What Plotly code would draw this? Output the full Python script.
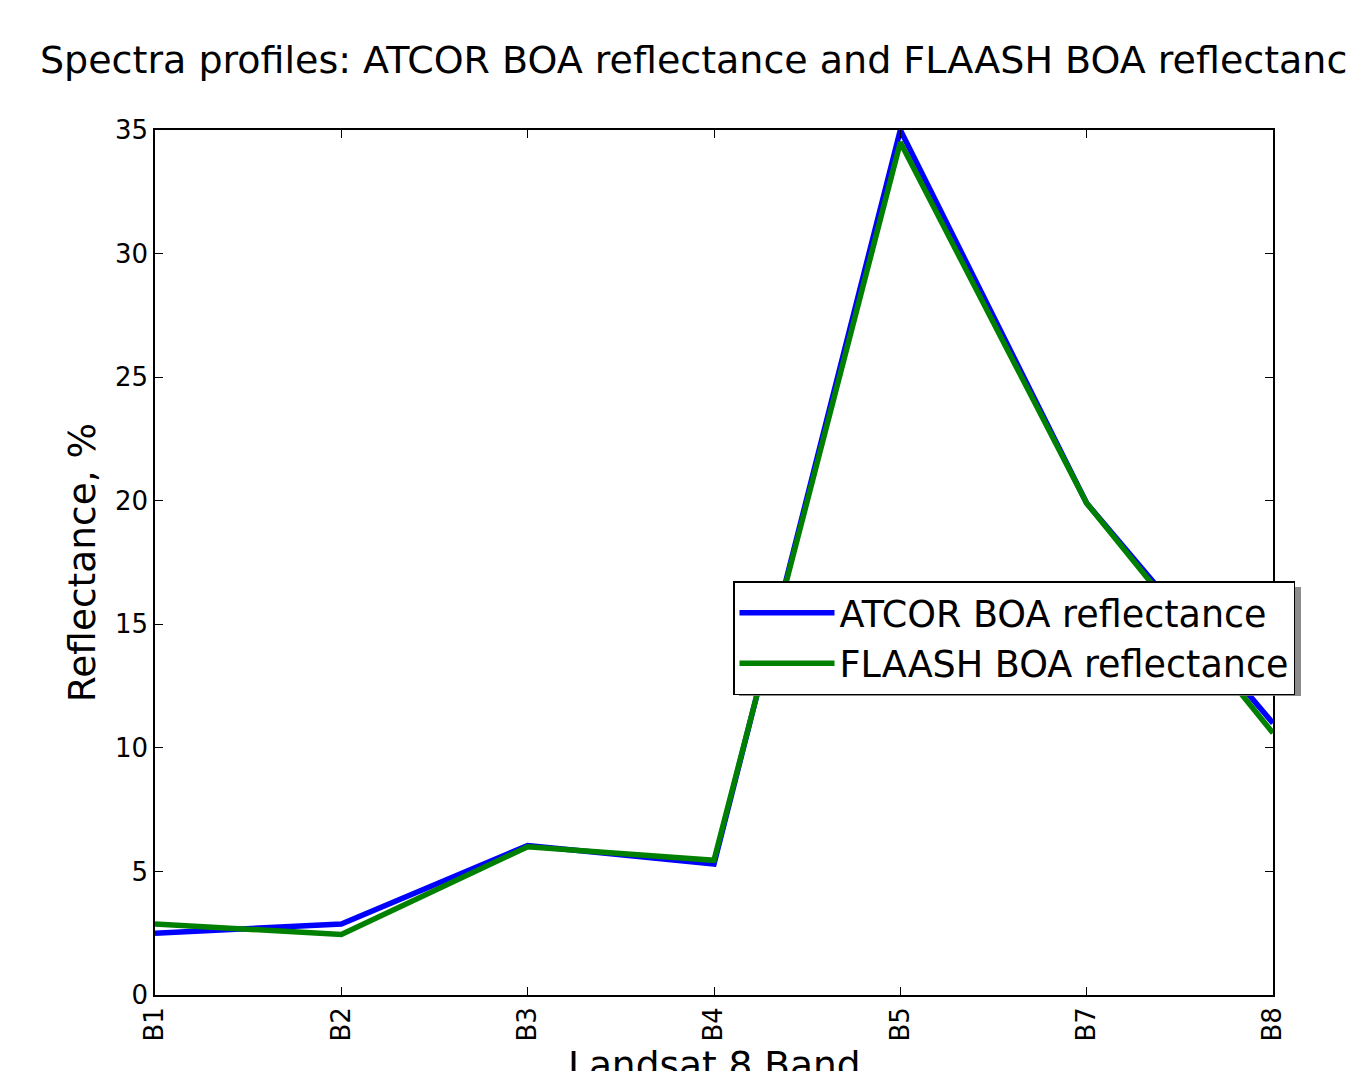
import plotly.graph_objects as go

bands = ["B1", "B2", "B3", "B4", "B5", "B7", "B8"]
atcor = [2.5, 2.87, 6.05, 5.3, 35.0, 19.9, 11.0]
flaash = [2.87, 2.45, 6.0, 5.45, 34.5, 19.9, 10.6]
y_ticks = [0, 5, 10, 15, 20, 25, 30, 35]

FONT = "DejaVu Sans"

fig = go.Figure()
fig.add_trace(go.Scatter(x=bands, y=atcor, mode="lines", name="ATCOR BOA reflectance",
                         line=dict(color="#0000ff", width=5.5), legendgroup="a"))
fig.add_trace(go.Scatter(x=bands, y=flaash, mode="lines", name="FLAASH BOA reflectance",
                         line=dict(color="#008000", width=5.5), legendgroup="b"))

L, R, T, B = 155, 75, 130, 76
W, H = 1348, 1071
pw, ph = W - L - R, H - T - B

def px(x):
    return (x - L) / pw

def py(y):
    return (H - B - y) / ph

# legend shadow
fig.add_shape(type="rect", xref="paper", yref="paper",
              x0=px(739), x1=px(1301), y0=py(696), y1=py(587),
              fillcolor="rgba(120,120,120,0.85)", line=dict(width=0), layer="above")

# x-axis title (sits partly below the bottom edge, as in the reference)
fig.add_annotation(text="Landsat 8 Band", xref="paper", yref="paper",
                   x=px(714), y=py(1041), xanchor="center", yanchor="top",
                   showarrow=False, font=dict(size=37.5, family=FONT, color="black"))

fig.update_layout(
    width=W, height=H,
    margin=dict(l=L, r=R, t=T, b=B, autoexpand=False),
    paper_bgcolor="white", plot_bgcolor="white",
    font=dict(family=FONT, color="black"),
    title=dict(text="Spectra profiles: ATCOR BOA reflectance and FLAASH BOA reflectance",
               x=40 / W, xref="container", xanchor="left",
               y=1 - 60 / H, yref="container", yanchor="middle",
               font=dict(size=38, family=FONT, color="black")),
    showlegend=True,
    legend=dict(x=px(733), y=py(581), xanchor="left", yanchor="top",
                bgcolor="white", bordercolor="black", borderwidth=1.5,
                font=dict(size=36.5, family=FONT, color="black"),
                itemwidth=95,
                tracegroupgap=6, traceorder="normal"),
    xaxis=dict(type="category", range=[0, 6], showgrid=False, zeroline=False,
               showline=True, linecolor="black", linewidth=1.5, mirror="ticks",
               ticks="inside", ticklen=8, tickcolor="black", tickwidth=1,
               tickangle=-90, tickfont=dict(size=26, family=FONT, color="black"),
               automargin=False),
    yaxis=dict(range=[0, 35], tickvals=y_ticks, showgrid=False, zeroline=False,
               showline=True, linecolor="black", linewidth=1.5, mirror="ticks",
               ticks="inside", ticklen=8, tickcolor="black", tickwidth=1,
               tickfont=dict(size=26, family=FONT, color="black"),
               title=dict(text="Reflectance, %", standoff=8,
                          font=dict(size=37.5, family=FONT, color="black")),
               automargin=False),
)

fig.write_html("out.html")
